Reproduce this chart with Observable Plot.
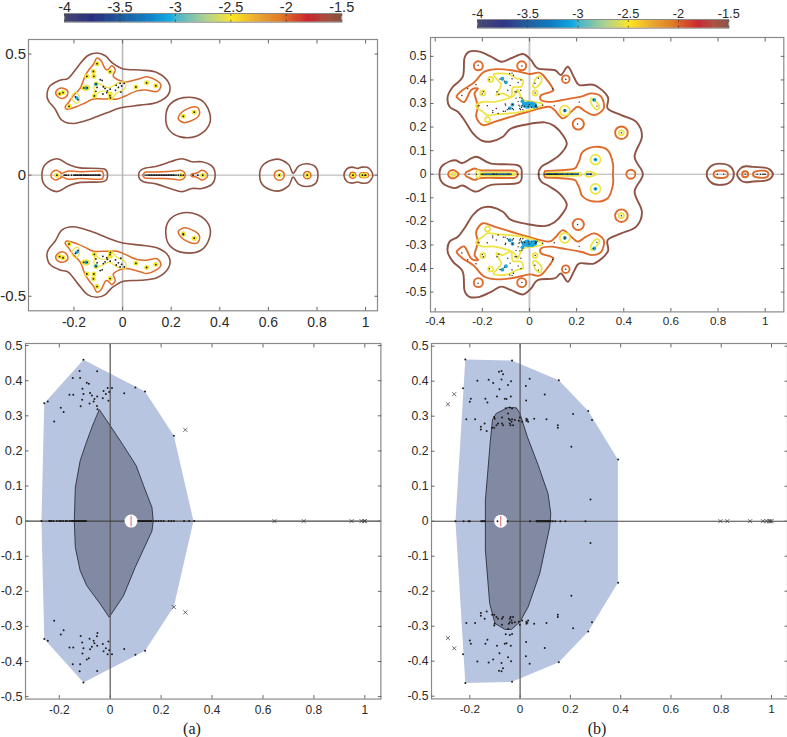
<!DOCTYPE html>
<html><head><meta charset="utf-8">
<script src="https://cdn.jsdelivr.net/npm/d3@7"></script>
<script src="https://cdn.jsdelivr.net/npm/@observablehq/plot@0.6"></script>
<style>
html,body{margin:0;padding:0;background:#fff;overflow:hidden;width:787px;height:737px}
#root{position:relative;width:787px;height:737px;overflow:hidden}
#root svg{position:absolute;overflow:visible;background:transparent;max-width:none}
.cap{position:absolute;font:16px "Liberation Serif",serif;color:#222;transform:translateX(-50%)}
</style></head><body><div id="root"></div>
<script>
// ---- colour bar
const colorStops=[-4,-3.75,-3.5,-3.25,-3.05,-3,-2.75,-2.55,-2.5,-2.25,-2.05,-2,-1.8,-1.65,-1.5];
const colorValues=["#45466f","#2a2d80","#1e5a9a","#1080c5","#10aae5","#45b4cc","#a7cf96","#e8e04a","#ffe822","#e8a530","#df7a2a","#dc6428","#c8242c","#a84c3c","#84503f"];
const colorTicks=[-4,-3.5,-3,-2.5,-2,-1.5];

// ---- eigenvalues, case (a): upper half plane, mirrored by conjugation
const aPoints=[[-0.105,0.46],[-0.12,0.428],[-0.051,0.427],[-0.147,0.408],[-0.118,0.408],[-0.092,0.394],[-0.084,0.391],[-0.109,0.377],[-0.079,0.365],[-0.16,0.36],[-0.145,0.36],[-0.105,0.362],[-0.072,0.358],[-0.01,0.379],[-0.026,0.371],[0.007,0.379],[-0.004,0.368],[-0.017,0.362],[-0.029,0.35],[-0.007,0.343],[-0.051,0.355],[-0.062,0.348],[-0.065,0.341],[-0.081,0.335],[-0.11,0.346],[-0.116,0.327],[-0.052,0.328],[-0.05,0.319],[-0.194,0.323],[-0.183,0.311],[-0.22,0.284],[-0.259,0.336],[-0.245,0.341],[0.055,0.364],[0.099,0.381],[0.137,0.369]];
const aAxisPoints=[-0.27,-0.24,-0.235,-0.23,-0.222,-0.21,-0.2,-0.193,-0.185,-0.175,-0.17,-0.16,-0.153,-0.147,-0.14,-0.13,-0.12,-0.11,-0.1,-0.095,0.11,0.12,0.13,0.14,0.15,0.16,0.17,0.18,0.19,0.2,0.21,0.23,0.24,0.25,0.29,0.31,0.33];
const aExtra=[[0.25,0.243]];
const aCrosses=[[0.295,0.26],[0.295,-0.26],[0.25,-0.245],[0.645,0],[0.76,0],[0.948,0],[0.987,0],[0.998,0],[1,0]];
const aHalo=[[-0.105,0.46],[-0.12,0.428],[-0.051,0.427],[-0.147,0.408],[-0.118,0.408],[-0.109,0.377],[-0.22,0.284],[-0.259,0.336],[-0.245,0.341],[0.055,0.364],[0.099,0.381],[0.137,0.369],[0.25,0.243],[0.295,0.26],[-0.05,0.319],[-0.116,0.327],[-0.051,0.335],[-0.16,0.36],[-0.145,0.36]];
const aHaloAxis=[-0.27,0.645,0.76,0.948,0.987,1,0.33,0.24];
const aCyan=[[-0.188,0.318],[-0.15,0.36],[-0.11,0.375]];

// ---- eigenvalues, case (b)
const bPoints=[[-0.218,0.462],[-0.032,0.459],[0.154,0.403],[0.038,0.407],[-0.074,0.429],[-0.084,0.427],[-0.068,0.42],[-0.074,0.405],[-0.036,0.4],[-0.125,0.404],[-0.107,0.395],[-0.17,0.401],[-0.227,0.38],[-0.082,0.377],[-0.048,0.389],[0.023,0.386],[0.098,0.362],[0.024,0.345],[-0.196,0.35],[-0.2,0.341],[-0.138,0.35],[-0.13,0.339],[-0.092,0.356],[-0.061,0.35],[-0.054,0.349],[-0.037,0.356],[0.211,0.306],[0.271,0.315],[0.286,0.289],[-0.214,0.291],[-0.179,0.291],[0.204,0.213],[0.15,0.274],[0.15,0.267],[0.39,0.176],[0.28,0.062],[-0.057,0.323],[-0.041,0.325],[-0.032,0.322],[-0.048,0.308],[-0.103,0.298],[-0.072,0.296],[-0.101,0.293],[-0.045,0.293],[-0.032,0.291],[-0.041,0.289],[-0.034,0.284],[-0.021,0.289],[-0.001,0.296],[0.025,0.293],[0.029,0.29],[0.056,0.293],[0.105,0.291],[-0.141,0.279],[-0.156,0.27],[-0.156,0.262],[-0.133,0.258],[-0.111,0.267],[-0.103,0.267],[-0.088,0.279],[-0.072,0.279],[-0.068,0.274],[-0.041,0.279],[-0.038,0.274],[-0.028,0.274],[-0.005,0.287],[0.008,0.284],[0.025,0.287],[0.032,0.284],[-0.094,0.274]];
const bAxisPoints=[-0.257,-0.225,-0.205,-0.2,-0.155,-0.15,-0.14,-0.09,-0.05,0.04,0.065,0.07,0.075,0.08,0.085,0.09,0.095,0.1,0.105,0.11,0.115,0.12,0.13,0.14,0.16,0.18,0.26];
const bCrosses=[[-0.287,0.334],[-0.262,0.363],[-0.287,-0.334],[-0.262,-0.363],[0.797,0],[0.824,0],[0.915,0],[0.966,0],[0.98,0],[0.99,0],[0.995,0],[1,0]];
const bCyan=[[-0.115,0.405],[-0.1,0.39],[0.15,0.27],[0.28,0.062],[0.275,0.315],[-0.072,0.295],[-0.083,0.28],[-0.03,0.31]];
const bCyanBlob=[[-0.02,0.295],[-0.005,0.297],[0.01,0.296],[0.02,0.292],[-0.01,0.29]];

// ---- convex regions of the lower panels
const aOuter=[[-0.259,0.336],[-0.105,0.46],[0.137,0.369],[0.25,0.243],[0.327,0],[0.25,-0.243],[0.137,-0.369],[-0.105,-0.46],[-0.259,-0.336],[-0.27,0]];
const aInner=[[-0.042,0.317],[0,0.272],[0.052,0.215],[0.102,0.158],[0.131,0.101],[0.164,0.039],[0.169,0],[0.164,-0.028],[0.131,-0.08],[0.098,-0.132],[0.052,-0.213],[-0.004,-0.274],[-0.039,-0.236],[-0.092,-0.184],[-0.118,-0.141],[-0.137,-0.075],[-0.141,0],[-0.137,0.096],[-0.118,0.172],[-0.098,0.215],[-0.072,0.267]];
const bOuter=[[-0.218,0.462],[-0.032,0.459],[0.154,0.403],[0.271,0.315],[0.389,0.176],[0.389,-0.176],[0.271,-0.315],[0.154,-0.403],[-0.032,-0.459],[-0.218,-0.462],[-0.257,0]];
const bInner=[[-0.094,0.308],[-0.048,0.325],[-0.015,0.324],[-0.001,0.308],[0.029,0.241],[0.072,0.16],[0.111,0.079],[0.122,0.022],[0.118,-0.016],[0.078,-0.15],[0.032,-0.245],[-0.001,-0.288],[-0.034,-0.309],[-0.061,-0.309],[-0.1,-0.292],[-0.121,-0.235],[-0.138,-0.083],[-0.138,0.06],[-0.118,0.232],[-0.11,0.289]];
const aCentre=[0.082], bCentre=[-0.077];

// ---- contours (a): level -1.5, upper half plane
const aBrownOff=[
 [[-0.311,0.334],[-0.298,0.369],[-0.257,0.392],[-0.222,0.401],[-0.181,0.452],[-0.144,0.493],[-0.106,0.504],[-0.071,0.493],[-0.044,0.465],[0.004,0.438],[0.073,0.434],[0.141,0.424],[0.189,0.383],[0.189,0.334],[0.141,0.3],[0.073,0.289],[-0.003,0.279],[-0.064,0.258],[-0.133,0.231],[-0.202,0.213],[-0.25,0.227],[-0.277,0.272],[-0.305,0.307]],
 [[0.178,0.244],[0.196,0.293],[0.251,0.32],[0.321,0.311],[0.358,0.258],[0.354,0.203],[0.306,0.162],[0.237,0.158],[0.189,0.19]]];
const aBrownAxis=[
 [[-0.332,0],[-0.318,0.044],[-0.27,0.068],[-0.222,0.044],[-0.174,0.03],[-0.078,0.026],[-0.062,0]],
 [[0.066,0],[0.084,0.026],[0.141,0.037],[0.196,0.055],[0.244,0.068],[0.285,0.055],[0.326,0.055],[0.368,0.037],[0.381,0]],
 [[0.564,0],[0.58,0.044],[0.635,0.066],[0.683,0.044],[0.701,0.008],[0.724,0.037],[0.756,0.047],[0.793,0.035],[0.804,0]],
 [[0.911,0],[0.923,0.026],[0.944,0.033],[0.967,0.028],[0.985,0.033],[1.012,0.03],[1.03,0]]];
// level -2
const aOrangeOff=[
 [[-0.275,0.337],[-0.265,0.355],[-0.244,0.359],[-0.225,0.345],[-0.233,0.323],[-0.257,0.318]],
 [[-0.236,0.282],[-0.222,0.3],[-0.204,0.327],[-0.174,0.359],[-0.154,0.41],[-0.136,0.438],[-0.119,0.459],[-0.106,0.483],[-0.088,0.472],[-0.071,0.438],[-0.058,0.438],[-0.044,0.452],[-0.03,0.434],[-0.037,0.406],[0.011,0.385],[0.073,0.399],[0.1,0.406],[0.141,0.39],[0.158,0.369],[0.141,0.345],[0.1,0.351],[0.059,0.348],[0.011,0.327],[-0.023,0.314],[-0.064,0.314],[-0.119,0.314],[-0.15,0.3],[-0.181,0.286],[-0.209,0.276],[-0.229,0.272]],
 [[0.23,0.241],[0.251,0.265],[0.299,0.282],[0.317,0.262],[0.306,0.237],[0.258,0.217],[0.233,0.227]]];
const aOrangeAxis=[
 [[-0.295,0],[-0.289,0.013],[-0.273,0.02],[-0.256,0.012],[-0.25,0.007],[-0.222,0.017],[-0.174,0.014],[-0.092,0.017],[-0.082,0.012],[-0.078,0]],
 [[0.084,0],[0.089,0.009],[0.1,0.013],[0.169,0.014],[0.22,0.018],[0.237,0.02],[0.253,0.013],[0.258,0]],
 [[0.281,0],[0.287,0.006],[0.299,0.007],[0.312,0.012],[0.326,0.02],[0.343,0.013],[0.35,0]],
 [[0.975,0],[0.979,0.008],[0.987,0.01],[1.005,0.009],[1.01,0.006],[1.012,0]]];
const aRingLarge=[[0.645,0]], aRingMid=[[0.76,0]], aRingSmall=[[0.947,0]];
const aYellowOff=[
 [[-0.117,0.36],[-0.113,0.38],[-0.09,0.375],[-0.055,0.36],[-0.02,0.38],[0.012,0.385],[0.008,0.355],[-0.023,0.34],[-0.044,0.32],[-0.064,0.345],[-0.092,0.345],[-0.112,0.333]],
 [[-0.21,0.32],[-0.195,0.342],[-0.18,0.33],[-0.178,0.305],[-0.192,0.298]],
 [[-0.165,0.36],[-0.15,0.372],[-0.135,0.362],[-0.15,0.35]]];

// ---- contours (b): level -1.5
const bBrownAxis=[
 [[0.038,0],[0.05,0.031],[0.085,0.052],[0.127,0.081],[0.158,0.127],[0.141,0.166],[0.106,0.204],[0.064,0.22],[-0.007,0.212],[-0.078,0.194],[-0.113,0.159],[-0.163,0.139],[-0.205,0.144],[-0.24,0.173],[-0.276,0.229],[-0.304,0.265],[-0.339,0.286],[-0.347,0.329],[-0.325,0.371],[-0.283,0.414],[-0.276,0.492],[-0.255,0.52],[-0.212,0.52],[-0.163,0.499],[-0.12,0.477],[-0.078,0.492],[-0.028,0.51],[0.007,0.484],[0.035,0.449],[0.106,0.442],[0.134,0.421],[0.163,0.456],[0.191,0.407],[0.212,0.378],[0.276,0.378],[0.332,0.329],[0.332,0.279],[0.389,0.251],[0.453,0.222],[0.477,0.159],[0.446,0.074],[0.481,0]],
 [[-0.382,0],[-0.368,0.038],[-0.318,0.059],[-0.283,0.048],[-0.226,0.074],[-0.163,0.045],[-0.05,0.038],[-0.033,0]],
 [[0.752,0],[0.771,0.035],[0.806,0.045],[0.849,0.035],[0.867,0]],
 [[0.881,0],[0.898,0.027],[0.919,0.034],[0.948,0.031],[0.997,0.028],[1.018,0.021],[1.033,0]]];
const bOrangeOff=[
 [[-0.308,0.333],[-0.283,0.357],[-0.24,0.385],[-0.226,0.399],[-0.191,0.435],[-0.134,0.446],[-0.064,0.439],[0,0.425],[0.035,0.431],[0.057,0.421],[0.099,0.364],[0.092,0.35],[0.05,0.336],[0.05,0.314],[0.092,0.307],[0.134,0.314],[0.219,0.329],[0.262,0.343],[0.304,0.329],[0.315,0.279],[0.276,0.251],[0.24,0.265],[0.205,0.286],[0.177,0.265],[0.141,0.237],[0.106,0.272],[0.078,0.286],[-0.007,0.265],[-0.078,0.244],[-0.149,0.222],[-0.198,0.208],[-0.226,0.244],[-0.219,0.286],[-0.226,0.314],[-0.233,0.343],[-0.219,0.364],[-0.248,0.357],[-0.276,0.307],[-0.304,0.322]]];
const bOrangeAxis=[
 [[0.061,0],[0.065,0.01],[0.072,0.014],[0.134,0.017],[0.191,0.024],[0.205,0.045],[0.212,0.059],[0.226,0.095],[0.276,0.116],[0.332,0.102],[0.354,0.045],[0.354,0]],
 [[-0.345,0],[-0.34,0.012],[-0.325,0.018],[-0.31,0.012],[-0.3,0]],
 [[-0.273,0],[-0.268,0.009],[-0.259,0.013],[-0.233,0.024],[-0.205,0.016],[-0.092,0.016],[-0.06,0.014],[-0.05,0]],
 [[0.781,0],[0.785,0.01],[0.796,0.015],[0.827,0.015],[0.838,0.01],[0.842,0]],
 [[0.948,0],[0.953,0.009],[0.969,0.014],[0.997,0.015],[1.01,0.01],[1.014,0]]];
const bRingLarge=[[0.39,0.176]];
const bRingWide=[[0.207,0.213]];
const bRingMid=[[-0.217,0.46],[-0.033,0.46],[0.43,0],[-0.217,-0.46],[-0.033,-0.46]];
const bRingSmall=[[0.154,0.403],[0.154,-0.403]];
const bRingTiny=[[0.915,0]];
const bYellowOff=[
 [[-0.226,0.293],[-0.198,0.307],[-0.148,0.307],[-0.092,0.321],[-0.064,0.336],[-0.05,0.358],[-0.028,0.316],[0.021,0.307],[0.057,0.297],[0.021,0.279],[-0.035,0.265],[-0.085,0.258],[-0.134,0.255],[-0.177,0.25],[-0.198,0.265],[-0.219,0.279]],
 [[-0.151,0.425],[-0.092,0.425],[-0.057,0.407],[-0.028,0.399],[-0.035,0.371],[-0.071,0.368],[-0.078,0.329],[-0.113,0.343],[-0.141,0.336],[-0.12,0.378],[-0.134,0.399]],
 [[0.028,0.407],[0.047,0.416],[0.05,0.392],[0.028,0.368],[0.014,0.374]],
 [[0.262,0.322],[0.276,0.314],[0.297,0.286],[0.283,0.275],[0.262,0.3]]];
const bYellowRing=[[0.28,0.062],[0.15,0.27]];
const bYellowRingSmall=[[-0.165,0.402],[-0.198,0.345],[0.024,0.345],[-0.178,0.232],[0.39,0.176]];
const bYellowAxis=[
 [[-0.335,0],[-0.325,0.008],[-0.312,0]],
 [[-0.228,0],[-0.22,0.016],[-0.205,0.005],[-0.215,0]],
 [[-0.205,0],[-0.19,0.006],[-0.075,0.005],[-0.065,0]],
 [[0.07,0],[0.08,0.006],[0.15,0.007],[0.215,0.006],[0.215,0]],
 [[0.235,0],[0.25,0.012],[0.275,0.005],[0.285,0]]];

// ---- dark cores along the real axis
const aCore=[[-0.2,-0.09],[0.09,0.225]];
const bCore=[[-0.2,-0.075],[0.07,0.21],[0.24,0.265]];
const aDense=[[-0.15,-0.095],[0.11,0.165]];
const bDense=[[0.065,0.125],[-0.15,-0.14]];

// ---- axis ticks
const xTicks=[-0.2,0,0.2,0.4,0.6,0.8,1];
const bTopXTicks=[-0.4,-0.2,0,0.2,0.4,0.6,0.8,1];
const aTopYTicks=[-0.5,0,0.5];
const fineYTicks=[-0.5,-0.4,-0.3,-0.2,-0.1,0,0.1,0.2,0.3,0.4,0.5];

// ---- helpers (mirror upper half plane data through the real axis)
const conj=pts=>pts.map(([x,y])=>[x,-y]);
const around=pts=>[...pts,...pts.slice(1,-1).reverse().map(([x,y])=>[x,-y])];
const full=(pts)=>[...pts,...conj(pts)];
const rows=list=>list.flatMap((p,i)=>p.map(([x,y])=>({x,y,id:i})));
const contourRows=(off,axis)=>rows([...off,...off.map(conj),...axis.map(around)]);
const onAxis=vals=>vals.map(x=>[x,0]);
const FONT='"Liberation Sans",Arial,sans-serif';
const C={brown:"#8e5344",orange:"#de6b2b",yellow:"#eee340",cyan:"#1ea5dc",ink:"#1c1c1c"};
const curved=(data,stroke,sw)=>Plot.line(data,{x:"x",y:"y",z:"id",stroke,strokeWidth:sw,curve:"cardinal-closed"});
const ring=(pts,r,stroke,sw)=>Plot.dot(pts,{x:d=>d[0],y:d=>d[1],r,stroke,strokeWidth:sw,fill:"none"});
const blob=(pts,r,fill)=>Plot.dot(pts,{x:d=>d[0],y:d=>d[1],r,fill,stroke:"none"});
const seg=(list,stroke,sw)=>Plot.link(list,{x1:d=>d[0],x2:d=>d[1],y1:()=>0,y2:()=>0,stroke,strokeWidth:sw});

const root=document.getElementById("root");
function place(chart,left,top){chart.style.left=left+"px";chart.style.top=top+"px";root.appendChild(chart);}

function panel(frame,xDomain,yDomain,xT,yT,marks,fsX,fsY,gx,gy){
  const [l,t,r,b]=frame, ml=36,mr=2,mt=4,mb=26;
  const chart=Plot.plot({
    width:r-l+ml+mr,height:b-t+mt+mb,marginLeft:ml,marginRight:mr,marginTop:mt,marginBottom:mb,
    x:{domain:xDomain,label:null},y:{domain:yDomain,label:null},
    style:{fontFamily:FONT,background:"transparent"},
    marks:[...marks,
      Plot.frame({stroke:"#8a8a8a",strokeWidth:1.2}),
      Plot.axisX(xT,{anchor:"bottom",tickSize:-3.5,tickPadding:gx+3.5,tickFormat:d=>String(d),fontSize:fsX,fill:"#2a2a2a",stroke:"#666",label:null}),
      Plot.axisX(xT,{anchor:"top",tickSize:-3.5,tickFormat:()=>"",stroke:"#666",label:null}),
      Plot.axisY(yT,{anchor:"left",tickSize:-3.5,tickPadding:gy+3.5,tickFormat:d=>String(d),fontSize:fsY,fill:"#2a2a2a",stroke:"#666",label:null}),
      Plot.axisY(yT,{anchor:"right",tickSize:-3.5,tickFormat:()=>"",stroke:"#666",label:null})
    ]});
  place(chart,l-ml,t-mt);
}
function colorbar(x1,x2,y1,y2,fs){
  const mt=14,mb=2,ml=14,mr=14,step=0.01;
  const vals=d3.range(colorStops[0],colorStops[colorStops.length-1],step);
  const chart=Plot.plot({
    width:x2-x1+ml+mr,height:y2-y1+mt+mb,marginLeft:ml,marginRight:mr,marginTop:mt,marginBottom:mb,
    x:{domain:[-4,-1.5],label:null},y:{domain:[0,1],axis:null},
    color:{type:"linear",domain:colorStops,range:colorValues},
    style:{fontFamily:FONT,background:"transparent"},
    marks:[
      Plot.rect(vals,{x1:d=>d,x2:d=>Math.min(d+step*1.6,-1.5),y1:()=>0,y2:()=>1,fill:d=>d}),
      Plot.frame({stroke:"#8a8a8a",strokeWidth:1}),
      Plot.axisX(colorTicks,{anchor:"top",tickSize:-2,tickPadding:3,tickFormat:d=>String(d),fontSize:fs,fill:"#2a2a2a",stroke:"#333",strokeWidth:0.7,label:null}),
      Plot.axisX(colorTicks,{anchor:"bottom",tickSize:-2,tickFormat:()=>"",stroke:"#333",strokeWidth:0.7,label:null})
    ]});
  place(chart,x1-ml,y1-mt);
}

// ---- top left
const aAll=[...full(aPoints),...aExtra,...onAxis(aAxisPoints),...aCrosses,[0.25,-0.243]];
panel([28.3,38.7,377.3,310],[-0.387,1.049],[-0.56,0.56],xTicks,aTopYTicks,[
  Plot.ruleX([0],{stroke:"#b9b9b9",strokeWidth:1.6}),
  Plot.ruleY([0],{stroke:"#b0b0b0",strokeWidth:1}),
  curved(contourRows(aBrownOff,aBrownAxis),C.brown,1.6),
  curved(contourRows(aOrangeOff,aOrangeAxis),C.orange,1.5),
  ring(aRingLarge,5,C.orange,1.5),ring(aRingMid,3.7,C.orange,1.5),ring(aRingSmall,3,C.orange,1.5),
  curved(rows([...aYellowOff,...aYellowOff.map(conj)]),C.yellow,1.2),
  blob([...full(aHalo),...onAxis(aHaloAxis),[0.25,-0.243],[0.295,-0.26]],2.5,"#f3e62f"),
  blob(full(aCyan),1.8,C.cyan),
  seg(aCore,"#17202a",1.3),
  blob(aAll,0.9,C.ink)
],14,15,6,2.5);

// ---- top right
const bAll=[...full(bPoints),...onAxis(bAxisPoints),...bCrosses];
panel([430,37.3,783.3,311.7],[-0.42,1.079],[-0.584,0.58],bTopXTicks,fineYTicks,[
  Plot.ruleX([0],{stroke:"#c9c9c9",strokeWidth:2}),
  Plot.ruleY([0],{stroke:"#b0b0b0",strokeWidth:1}),
  curved(contourRows([],bBrownAxis),C.brown,1.9),
  curved(contourRows(bOrangeOff,bOrangeAxis),C.orange,1.9),
  ring(full(bRingLarge),6.3,C.orange,1.9),ring(full(bRingWide),5.6,C.orange,1.9),
  ring(bRingMid,4.5,C.orange,1.9),ring(bRingSmall,3.8,C.orange,1.9),ring(bRingTiny,3,C.orange,1.9),
  curved(rows([...bYellowOff,...bYellowOff.map(conj),...bYellowAxis.map(around)]),C.yellow,1.7),
  ring(full(bYellowRing),5,C.yellow,1.7),ring(full(bYellowRingSmall),2.5,C.yellow,1.7),
  blob(full(bCyan),1.9,C.cyan),blob(full(bCyanBlob),3,C.cyan),
  seg(bCore,"#135a86",1.8),
  blob(bAll,0.7,C.ink)
],11.7,12.2,5,4);

// ---- bottom panels
const centreMark=(x)=>[
  Plot.dot(x,{x:d=>d,y:()=>0,r:6.5,fill:"#fff",stroke:"none"}),
  Plot.link(x,{x1:d=>d,x2:d=>d,y1:()=>-0.015,y2:()=>0.015,stroke:"#d9606a",strokeWidth:1})
];
const crossMark=pts=>Plot.dot(pts,{x:d=>d[0],y:d=>d[1],symbol:"times",r:2,stroke:"#333",strokeWidth:0.7,fill:"none"});
const polygon=(pts,fill,stroke)=>Plot.line(pts,{x:d=>d[0],y:d=>d[1],fill,stroke:stroke||"none",strokeWidth:0.9,curve:"linear-closed"});
panel([25.3,342.7,380.7,698.3],[-0.3326,1.063],[-0.507,0.506],xTicks,fineYTicks,[
  polygon(aOuter,"#b8c5e0"),
  polygon(aInner,"#8289a3","#2b2f3a"),
  Plot.ruleX([0],{stroke:"#555",strokeWidth:1.2}),
  Plot.ruleY([0],{stroke:"#444",strokeWidth:1.1}),
  ...centreMark(aCentre),
  seg(aDense,"#1a1a1a",1.8),
  blob([...full(aPoints),...aExtra,...onAxis(aAxisPoints)],1,C.ink),
  crossMark(aCrosses)
],12,12.7,6,3);

panel([430.7,343.3,786.7,698.7],[-0.3524,1.0636],[-0.5077,0.5077],xTicks,fineYTicks,[
  polygon(bOuter,"#b8c5e0"),
  polygon(bInner,"#8289a3","#2b2f3a"),
  Plot.ruleX([0],{stroke:"#555",strokeWidth:1.2}),
  Plot.ruleY([0],{stroke:"#444",strokeWidth:1.1}),
  ...centreMark(bCentre),
  seg(bDense,"#1a1a1a",1.8),
  blob([...full(bPoints),...onAxis(bAxisPoints)],1,C.ink),
  crossMark(bCrosses)
],11.8,12.2,6,3);

colorbar(64,341.3,13.3,22,14.5);
colorbar(476.7,728,19.3,28,12.8);

for(const [t,x] of [["(a)",192],["(b)",597]]){
  const d=document.createElement("div");d.className="cap";d.textContent=t;d.style.left=x+"px";d.style.top="720px";root.appendChild(d);
}
</script></body></html>
